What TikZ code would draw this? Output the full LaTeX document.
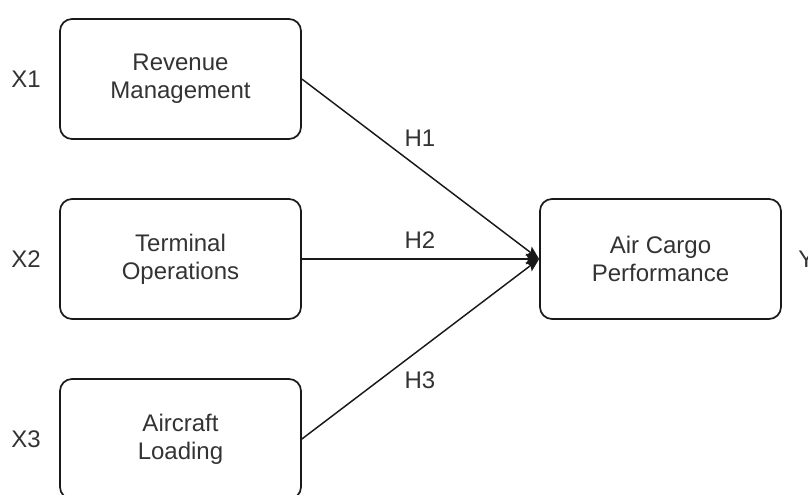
\documentclass[tikz,border=0pt]{standalone}
\usepackage{fontspec}
\setmainfont{Liberation Sans}
\usetikzlibrary{arrows.meta}
\definecolor{txt}{HTML}{333333}
\begin{document}
\begin{tikzpicture}[x=0.75pt,y=-0.75pt,
  box/.style={draw=black!90, line width=1.3pt, rounded corners=9pt, minimum width=180.75pt, minimum height=90pt, align=center, text=txt, font=\fontsize{18}{21}\selectfont, inner sep=0pt},
  lbl/.style={text=txt, font=\fontsize{18}{21}\selectfont, inner sep=0pt},
  conn/.style={line width=1.1pt, draw=black!90, -{Stealth[length=10pt,width=8pt,inset=2pt]}}]
\useasboundingbox (0,0) rectangle (808,494);
\clip (0,0) rectangle (808,494);
\node[box] (a) at (180.5,79) {Revenue\\Management};
\node[box] (b) at (180.5,259) {Terminal\\Operations};
\node[box] (c) at (180.5,439) {Aircraft\\Loading};
\node[box] (d) at (660.5,259) {Air Cargo\\Performance};
\node[lbl] (x1) at (26,79) {X1};
\node[lbl] (x2) at (26,259) {X2};
\node[lbl] (x3) at (26,439) {X3};
\node[lbl, anchor=west] (y) at (798,259) {Y};
\draw[conn] (a.east) -- (d.west);
\draw[conn] (b.east) -- (d.west);
\draw[conn] (c.east) -- (d.west);
\node[lbl] (h1) at (420,138) {H1};
\node[lbl] (h2) at (420,240) {H2};
\node[lbl] (h3) at (420,380) {H3};
\end{tikzpicture}
\end{document}
